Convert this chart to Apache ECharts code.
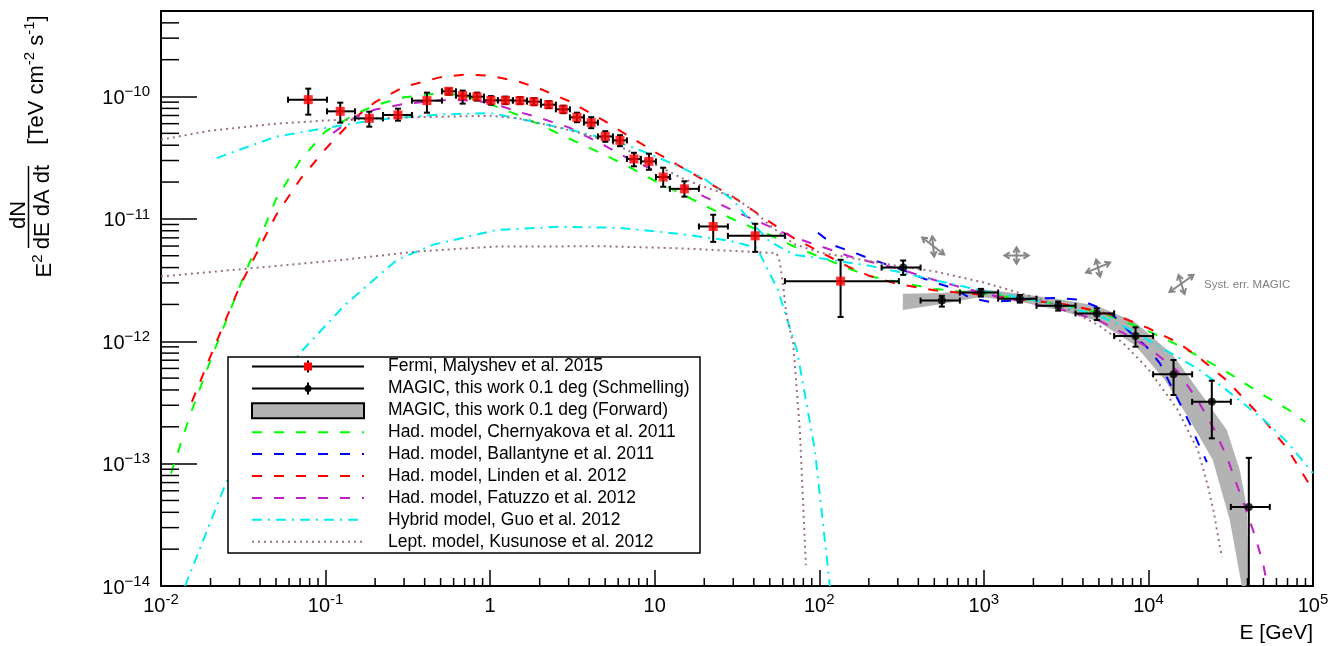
<!DOCTYPE html>
<html><head><meta charset="utf-8">
<script src="https://cdn.jsdelivr.net/npm/echarts@6.0.0/dist/echarts.min.js"></script>
<style>html,body{margin:0;padding:0;background:#fff;}#chart{width:1333px;height:646px;}</style>
</head><body><div id="chart"></div>
<script>
// ---------------- DATA ----------------
const LEGEND_NAMES = [
  'Fermi, Malyshev et al. 2015',
  'MAGIC, this work 0.1 deg (Schmelling)',
  'MAGIC, this work 0.1 deg (Forward)',
  'Had. model, Chernyakova et al. 2011',
  'Had. model, Ballantyne et al. 2011',
  'Had. model, Linden et al. 2012',
  'Had. model, Fatuzzo et al. 2012',
  'Hybrid model, Guo et al. 2012',
  'Lept. model, Kusunose et al. 2012'
];

// Fermi points (E [GeV], flux, bin edges, flux errors)
const FERMI_E    = [0.0785,0.1228,0.1843,0.2753,0.4130,0.5597,0.6807,0.8313,1.011,1.239,1.517,1.846,2.267,2.781,3.368,4.114,5.005,6.147,7.474,9.222,11.26,15.15,22.67,40.79,134.7];
const FERMI_F    = [9.43e-11,7.57e-11,6.63e-11,7.07e-11,9.26e-11,1.103e-10,1.017e-10,9.98e-11,9.31e-11,9.31e-11,9.26e-11,9.08e-11,8.58e-11,7.86e-11,6.76e-11,6.12e-11,4.72e-11,4.38e-11,3.09e-11,2.95e-11,2.20e-11,1.76e-11,8.67e-12,7.27e-12,3.10e-12];
const FERMI_E_LO = [0.0591,0.1020,0.1509,0.2233,0.3348,0.5095,0.6197,0.7542,0.9170,1.115,1.375,1.674,2.035,2.510,3.053,3.714,4.518,5.573,6.778,8.246,10.17,12.37,18.56,27.84,61.80];
const FERMI_E_HI = [0.1020,0.1509,0.2233,0.3348,0.5095,0.6197,0.7542,0.9170,1.115,1.375,1.674,2.035,2.510,3.053,3.714,4.518,5.573,6.778,8.246,10.17,12.37,18.56,27.84,61.80,304.5];
const FERMI_F_LO = [7.11e-11,6.12e-11,5.67e-11,6.35e-11,7.38e-11,1.036e-10,8.75e-11,9.26e-11,8.58e-11,8.67e-11,8.67e-11,8.50e-11,8.04e-11,7.31e-11,6.17e-11,5.51e-11,4.27e-11,3.93e-11,2.69e-11,2.52e-11,1.83e-11,1.52e-11,6.49e-12,5.38e-12,1.58e-12];
const FERMI_F_HI = [1.160e-10,8.91e-11,7.52e-11,7.96e-11,1.076e-10,1.160e-10,1.118e-10,1.076e-10,1.008e-10,9.98e-11,9.89e-11,9.70e-11,9.17e-11,8.42e-11,7.38e-11,6.78e-11,5.21e-11,4.83e-11,3.47e-11,3.41e-11,2.62e-11,2.03e-11,1.081e-11,9.12e-12,4.63e-12];

// MAGIC Schmelling points
const MAGIC_E    = [323.4,555.6,959,1654,2828,4859,8349,1.421e4,2.427e4,4.074e4];
const MAGIC_F    = [4.00e-12,2.15e-12,2.50e-12,2.23e-12,1.95e-12,1.69e-12,1.105e-12,5.37e-13,3.20e-13,4.43e-14];
const MAGIC_E_LO = [239.1,412.5,714.8,1221,2090,3607,6188,1.068e4,1.843e4,3.168e4];
const MAGIC_E_HI = [412.5,714.8,1221,2090,3607,6188,1.068e4,1.843e4,3.168e4,5.466e4];
const MAGIC_F_LO = [3.49e-12,1.92e-12,2.32e-12,2.07e-12,1.78e-12,1.49e-12,9.03e-13,3.64e-13,1.61e-13,1e-14];
const MAGIC_F_HI = [4.57e-12,2.35e-12,2.68e-12,2.39e-12,2.11e-12,1.86e-12,1.30e-12,7.03e-13,4.76e-13,1.115e-13];

// MAGIC Forward band
const BAND_UP_E = [322,555.6,959,1654,2816,4859,8269,1.407e4,2.053e4,2.995e4,3.592e4,3.961e4,4.074e4];
const BAND_UP_F = [2.44e-12,2.48e-12,2.68e-12,2.44e-12,2.22e-12,1.95e-12,1.44e-12,7.73e-13,3.84e-13,1.88e-13,8.85e-14,4.41e-14,1e-14];
const BAND_LO_E = [322,555.6,959,1654,2816,4859,8269,1.258e4,1.784e4,2.461e4,3.123e4,3.693e4];
const BAND_LO_F = [1.80e-12,2.02e-12,2.30e-12,2.10e-12,1.80e-12,1.47e-12,9.33e-13,4.82e-13,2.27e-13,1.07e-13,3.45e-14,1e-14];

// Models
const CHERN_E = [0.0115,0.015,0.02,0.03,0.05,0.07,0.1,0.15,0.2,0.3,0.5,0.7,1,1.5,2,3,5,7,10,15,20,30,50,70,100,150,200,300,500,1000,2000,3000,5000,7000,1e4,1.5e4,2e4,3e4,5e4,7e4,9e4];
const CHERN_F = [8.3e-14,2.48e-13,7.0e-13,2.78e-12,1.45e-11,3.0e-11,5.2e-11,7.1e-11,8.5e-11,9.85e-11,1.07e-10,1.01e-10,8.66e-11,7.0e-11,5.9e-11,4.55e-11,3.32e-11,2.65e-11,2.05e-11,1.57e-11,1.29e-11,9.9e-12,7.4e-12,5.95e-12,4.92e-12,3.95e-12,3.41e-12,3.05e-12,2.68e-12,2.44e-12,2.16e-12,1.98e-12,1.73e-12,1.47e-12,1.21e-12,9.33e-13,7.6e-13,5.6e-13,3.63e-13,2.79e-13,2.19e-13];

const BALL_E = [98.1,124.3,164.6,203.0,250.3,331.1,438.1,540.5,666.4,821.9,1088,1439,1903,2700,3830,5066,6250,7709,9737,1.173e4,1.482e4,1.784e4,2.053e4,2.264e4];
const BALL_F = [7.70e-12,6.03e-12,5.28e-12,4.72e-12,4.29e-12,3.76e-12,3.23e-12,2.94e-12,2.68e-12,2.26e-12,2.10e-12,2.14e-12,2.22e-12,2.26e-12,2.18e-12,1.87e-12,1.58e-12,1.19e-12,9.03e-13,6.61e-13,3.52e-13,2.13e-13,1.37e-13,1.03e-13];

const LINDEN_E = [0.0154,0.02,0.03,0.05,0.07,0.1,0.15,0.2,0.3,0.5,0.7,1,1.5,2,3,5,7,10,15,20,30,50,70,100,150,200,300,500,1000,2000,3000,5000,7000,1e4,1.5e4,2e4,3e4,5e4,7e4,1e5];
const LINDEN_F = [3.19e-13,7.56e-13,2.79e-12,1.07e-11,2.10e-11,3.73e-11,6.66e-11,9.0e-11,1.20e-10,1.44e-10,1.51e-10,1.48e-10,1.32e-10,1.16e-10,9.2e-11,6.26e-11,4.73e-11,3.53e-11,2.58e-11,2.07e-11,1.51e-11,9.45e-12,6.97e-12,5.42e-12,4.07e-12,3.44e-12,2.93e-12,2.61e-12,2.39e-12,2.14e-12,2.02e-12,1.75e-12,1.55e-12,1.28e-12,9.8e-13,7.5e-13,4.77e-13,2.30e-13,1.32e-13,6.06e-14];

const FATUZZO_E = [0.111,0.15,0.2,0.3,0.5,0.7,1,1.5,2,3,5,7,10,15,20,30,50,70,100,150,200,300,500,1000,2000,3000,5000,7000,1e4,1.5e4,2e4,2.5e4,3e4,3.5e4,4e4,4.5e4,5e4,5.2e4];
const FATUZZO_F = [5.04e-11,6.74e-11,7.84e-11,8.70e-11,9.32e-11,9.34e-11,8.93e-11,7.47e-11,6.70e-11,5.60e-11,3.96e-11,3.08e-11,2.49e-11,1.86e-11,1.52e-11,1.17e-11,8.66e-12,7.06e-12,6.03e-12,4.98e-12,4.49e-12,3.93e-12,3.17e-12,2.46e-12,2.01e-12,1.81e-12,1.48e-12,1.17e-12,8.88e-13,5.72e-13,3.27e-13,1.93e-13,1.13e-13,6.35e-14,3.87e-14,2.43e-14,1.48e-14,1.11e-14];

const GUO_E = [0.0218,0.03,0.05,0.1,0.2,0.5,1,1.5,2,3,5,7,10,15,20,30,40,50,70,100,200,300,500,1000,2000,3000,5000,7000,1e4,1.5e4,2e4,3e4,5e4,7e4,1e5];
const GUO_F = [3.14e-11,3.67e-11,4.70e-11,5.53e-11,6.43e-11,7.14e-11,7.33e-11,6.59e-11,6.05e-11,5.39e-11,4.52e-11,3.94e-11,3.26e-11,2.58e-11,2.14e-11,1.42e-11,8.93e-12,6.52e-12,5.10e-12,4.78e-12,4.15e-12,3.70e-12,3.16e-12,2.58e-12,2.17e-12,1.96e-12,1.61e-12,1.34e-12,1.02e-12,7.42e-13,5.94e-13,3.97e-13,2.30e-13,1.49e-13,8.36e-14];

const GUO2_E = [0.014,0.0168,0.0241,0.04,0.0699,0.131,0.2715,0.449,1.10,2.655,6.147,14.23,28.63,41.78,56.04,73.1,94.0,116];
const GUO2_F = [1e-14,1.85e-14,6.30e-14,2.74e-13,8.02e-13,1.98e-12,4.63e-12,6.14e-12,8.14e-12,8.62e-12,8.45e-12,7.55e-12,6.62e-12,5.80e-12,2.63e-12,8.49e-13,1.29e-13,1e-14];

const KUSU_E = [0.01,0.02,0.05,0.1,0.3,1,1.5,2,3,5,7,10,15,20,30,40,50,70,100,200,300,500,1000,2000,3000,5000,7000,1e4,1.5e4,2e4,2.3e4,2.5e4,2.7e4,2.8e4];
const KUSU_F = [4.44e-11,5.26e-11,6.0e-11,6.37e-11,6.75e-11,6.96e-11,6.62e-11,6.05e-11,5.33e-11,4.41e-11,3.59e-11,2.80e-11,2.12e-11,1.83e-11,1.52e-11,1.16e-11,8.85e-12,6.24e-12,5.32e-12,4.53e-12,4.12e-12,3.73e-12,3.02e-12,2.30e-12,1.92e-12,1.35e-12,9.70e-13,5.91e-13,2.77e-13,1.28e-13,6.55e-14,3.96e-14,2.19e-14,1.72e-14];

const KUSU2_E = [0.01,0.1276,0.3577,1.083,5.0,14.23,36.17,55.04,57.6,60.35,63.3,69.4,76.2,82.9];
const KUSU2_F = [3.38e-12,4.63e-12,5.41e-12,5.95e-12,5.97e-12,5.75e-12,5.41e-12,5.25e-12,4.46e-12,2.80e-12,1.59e-12,9.63e-13,1.88e-13,1.48e-14];

// Systematic-error arrow crosses (centres)
const SYST_E = [492, 1580, 4947, 1.589e4];
const SYST_F = [5.95e-12, 5.02e-12, 4.00e-12, 2.94e-12];
const SYST_LABEL = 'Syst. err. MAGIC';

// Axes
const X_MIN = 0.01, X_MAX = 1e5, Y_MIN = 1e-14, Y_MAX = 5e-10;
const X_TICK_LABELS = {'-2':'{b|10}{s|-2}','-1':'{b|10}{s|-1}','0':'{b|1}','1':'{b|10}','2':'{b|10}{s|2}','3':'{b|10}{s|3}','4':'{b|10}{s|4}','5':'{b|10}{s|5}'};
const Y_TICK_LABELS = {'-14':'{b|10}{s|−14}','-13':'{b|10}{s|−13}','-12':'{b|10}{s|−12}','-11':'{b|10}{s|−11}','-10':'{b|10}{s|−10}'};
const MINOR_MANT = [2,3,4,5,6,7,8,9];
const X_DECADES = [-2,-1,0,1,2,3,4];
const Y_DECADES = [-14,-13,-12,-11,-10];
const X_TITLE = 'E [GeV]';

// ---------------- CHART ----------------
const FONT = '"Liberation Sans", Arial, Helvetica, sans-serif';
const pairs = (xs, ys) => xs.map((x, i) => [x, ys[i]]);
const X_MINOR = [];
X_DECADES.forEach(d => MINOR_MANT.forEach(m => X_MINOR.push(m * Math.pow(10, d))));
const Y_MINOR = [];
Y_DECADES.forEach(d => MINOR_MANT.forEach(m => { const v = m * Math.pow(10, d); if (v < Y_MAX * 0.99) Y_MINOR.push(v); }));

const C_GREEN = '#00ff00', C_BLUE = '#0000ff', C_RED = '#ff0000', C_MAG = '#c020c8', C_CYAN = '#00eeee', C_BROWN = '#9a7080';
const DASH = [10, 12], DASHDOT = [10, 6, 2, 6], DOT = [2, 4];

const labelRich = {
  b: {fontSize: 20, lineHeight: 24, verticalAlign: 'bottom', fontFamily: FONT, color: '#000'},
  s: {fontSize: 15, verticalAlign: 'top', fontFamily: FONT, color: '#000'}
};

function errRender(params, api) {
  const c = api.coord([api.value(0), api.value(1)]);
  const l = api.coord([api.value(2), api.value(1)]);
  const r = api.coord([api.value(3), api.value(1)]);
  const b = api.coord([api.value(0), api.value(4)]);
  const t = api.coord([api.value(0), api.value(5)]);
  const st = {stroke: '#000', lineWidth: 2};
  const cap = 3;
  return {type: 'group', children: [
    {type: 'line', shape: {x1: l[0], y1: c[1], x2: r[0], y2: c[1]}, style: st},
    {type: 'line', shape: {x1: c[0], y1: t[1], x2: c[0], y2: b[1]}, style: st},
    {type: 'line', shape: {x1: l[0], y1: c[1] - cap, x2: l[0], y2: c[1] + cap}, style: st},
    {type: 'line', shape: {x1: r[0], y1: c[1] - cap, x2: r[0], y2: c[1] + cap}, style: st},
    {type: 'line', shape: {x1: c[0] - cap, y1: t[1], x2: c[0] + cap, y2: t[1]}, style: st},
    {type: 'line', shape: {x1: c[0] - cap, y1: b[1], x2: c[0] + cap, y2: b[1]}, style: st}
  ]};
}

// arrow geometry (pixel offsets of the two double-headed arrows of each cross)
const ARROW_GEOM = [
  [[-11, -9, 11, 8], [-1, -10, 1, 10]],
  [[-12, 0, 12, 0], [0, -8, 0, 8]],
  [[-12, 5, 12, -5], [-2, -8, 2, 9]],
  [[-12, 8, 12, -9], [-3, -9, 3, 10]]
];
function arrowRender(params, api) {
  const c = api.coord([api.value(0), api.value(1)]);
  const children = [];
  const st = {stroke: '#858585', lineWidth: 2, fill: 'none'};
  ARROW_GEOM[params.dataIndex].forEach(g => {
    const x1 = c[0] + g[0], y1 = c[1] + g[1], x2 = c[0] + g[2], y2 = c[1] + g[3];
    children.push({type: 'line', shape: {x1, y1, x2, y2}, style: st});
    const len = Math.hypot(x2 - x1, y2 - y1), ux = (x2 - x1) / len, uy = (y2 - y1) / len;
    const h = 6, a = 0.55;
    const rot = (x, y, ang) => [x * Math.cos(ang) - y * Math.sin(ang), x * Math.sin(ang) + y * Math.cos(ang)];
    const p1 = rot(ux, uy, a), p2 = rot(ux, uy, -a);
    children.push({type: 'polyline', shape: {points: [[x2 - h * p1[0], y2 - h * p1[1]], [x2, y2], [x2 - h * p2[0], y2 - h * p2[1]]]}, style: st});
    children.push({type: 'polyline', shape: {points: [[x1 + h * p1[0], y1 + h * p1[1]], [x1, y1], [x1 + h * p2[0], y1 + h * p2[1]]]}, style: st});
  });
  return {type: 'group', children};
}

function lineSeries(name, xs, ys, color, dash, z) {
  return {type: 'line', name, data: pairs(xs, ys), showSymbol: false, symbol: 'none', silent: true,
    clip: true, z: z || 3, lineStyle: {color, width: 2, type: dash, cap: 'butt'}};
}

const series = [
  {type: 'custom', name: LEGEND_NAMES[2], silent: true, clip: true, z: 1,
    data: [[BAND_UP_E[0], BAND_UP_F[0]]],
    renderItem: (p, api) => {
      const pts = [];
      BAND_UP_E.forEach((e, i) => pts.push(api.coord([e, BAND_UP_F[i]])));
      for (let i = BAND_LO_E.length - 1; i >= 0; i--) pts.push(api.coord([BAND_LO_E[i], BAND_LO_F[i]]));
      return {type: 'polygon', shape: {points: pts}, style: {fill: '#b3b3b3', stroke: 'none'}};
    }},
  lineSeries(LEGEND_NAMES[3], CHERN_E, CHERN_F, C_GREEN, DASH),
  lineSeries(LEGEND_NAMES[4], BALL_E, BALL_F, C_BLUE, DASH),
  lineSeries(LEGEND_NAMES[5], LINDEN_E, LINDEN_F, C_RED, DASH),
  lineSeries(LEGEND_NAMES[6], FATUZZO_E, FATUZZO_F, C_MAG, DASH),
  lineSeries(LEGEND_NAMES[7], GUO_E, GUO_F, C_CYAN, DASHDOT),
  lineSeries(LEGEND_NAMES[7] + ' (component)', GUO2_E, GUO2_F, C_CYAN, DASHDOT),
  lineSeries(LEGEND_NAMES[8], KUSU_E, KUSU_F, C_BROWN, DOT),
  lineSeries(LEGEND_NAMES[8] + ' (component)', KUSU2_E, KUSU2_F, C_BROWN, DOT),
  {type: 'custom', name: 'fermi-err', silent: true, clip: true, z: 5, encode: {x: 0, y: 1},
    data: FERMI_E.map((e, i) => [e, FERMI_F[i], FERMI_E_LO[i], FERMI_E_HI[i], FERMI_F_LO[i], FERMI_F_HI[i]]),
    renderItem: errRender},
  {type: 'custom', name: 'magic-err', silent: true, clip: true, z: 5, encode: {x: 0, y: 1},
    data: MAGIC_E.map((e, i) => [e, MAGIC_F[i], MAGIC_E_LO[i], MAGIC_E_HI[i], MAGIC_F_LO[i], MAGIC_F_HI[i]]),
    renderItem: errRender},
  {type: 'scatter', name: LEGEND_NAMES[0], data: pairs(FERMI_E, FERMI_F), symbol: 'rect', symbolSize: 9,
    itemStyle: {color: '#ff0000'}, z: 6, silent: true},
  {type: 'scatter', name: LEGEND_NAMES[1], data: pairs(MAGIC_E, MAGIC_F), symbol: 'circle', symbolSize: 8,
    itemStyle: {color: '#000'}, z: 6, silent: true},
  {type: 'custom', name: 'syst', silent: true, clip: false, z: 6, data: pairs(SYST_E, SYST_F), renderItem: arrowRender},
  {type: 'custom', name: 'yminor', silent: true, clip: false, z: 7, encode: {x: 0, y: 1},
    data: Y_MINOR.map(v => [X_MIN, v]),
    renderItem: (p, api) => { const q = api.coord([api.value(0), api.value(1)]);
      return {type: 'line', shape: {x1: q[0], y1: q[1], x2: q[0] + 18, y2: q[1]}, style: {stroke: '#000', lineWidth: 1.5}}; }},
  {type: 'custom', name: 'xminor', silent: true, clip: false, z: 7, encode: {x: 0, y: 1},
    data: X_MINOR.map(v => [v, Y_MIN]),
    renderItem: (p, api) => { const q = api.coord([api.value(0), api.value(1)]);
      return {type: 'line', shape: {x1: q[0], y1: q[1], x2: q[0], y2: q[1] - 8}, style: {stroke: '#000', lineWidth: 1.5}}; }}
];

// legend drawn as graphic
const LEG = {x: 228, y: 357, w: 472, h: 196, row0: 366.5, dy: 21.9, sx1: 252, sx2: 364, tx: 388};
const legendEls = [{type: 'rect', shape: {x: LEG.x, y: LEG.y, width: LEG.w, height: LEG.h},
  style: {fill: '#fff', stroke: '#000', lineWidth: 1.5}, z: 100}];
const legendStyles = [null, null, null,
  [C_GREEN, DASH], [C_BLUE, DASH], [C_RED, DASH], [C_MAG, DASH], [C_CYAN, DASHDOT], [C_BROWN, DOT]];
LEGEND_NAMES.forEach((name, i) => {
  const y = LEG.row0 + i * LEG.dy;
  const mx = (LEG.sx1 + LEG.sx2) / 2;
  if (i === 0 || i === 1) {
    legendEls.push({type: 'line', z: 101, shape: {x1: LEG.sx1, y1: y, x2: LEG.sx2, y2: y}, style: {stroke: '#000', lineWidth: 2}});
    legendEls.push({type: 'line', z: 101, shape: {x1: mx, y1: y - 6, x2: mx, y2: y + 6}, style: {stroke: '#000', lineWidth: 2}});
    if (i === 0) legendEls.push({type: 'rect', z: 102, shape: {x: mx - 4, y: y - 4, width: 8, height: 8}, style: {fill: '#ff0000'}});
    else legendEls.push({type: 'circle', z: 102, shape: {cx: mx, cy: y, r: 3.5}, style: {fill: '#000'}});
  } else if (i === 2) {
    legendEls.push({type: 'rect', z: 101, shape: {x: LEG.sx1, y: y - 7, width: LEG.sx2 - LEG.sx1, height: 15},
      style: {fill: '#b3b3b3', stroke: '#000', lineWidth: 2}});
  } else {
    legendEls.push({type: 'line', z: 101, shape: {x1: LEG.sx1, y1: y, x2: LEG.sx2, y2: y},
      style: {stroke: legendStyles[i][0], lineWidth: 2, lineDash: legendStyles[i][1]}});
  }
  legendEls.push({type: 'text', z: 101, x: LEG.tx, y: y,
    style: {text: name, font: '17.5px ' + FONT, fill: '#000', align: 'left', verticalAlign: 'middle'}});
});

const titleRich = {
  b: {fontSize: 22, lineHeight: 26, verticalAlign: 'bottom', fontFamily: FONT, fill: '#000'},
  s: {fontSize: 15, verticalAlign: 'top', fontFamily: FONT, fill: '#000'}
};
const R90 = Math.PI / 2;
const titleEls = [
  {type: 'text', x: 43, y: 266, rotation: R90, style: {text: '{b|E}{s|2}', rich: titleRich, align: 'center', verticalAlign: 'middle'}},
  {type: 'text', x: 19, y: 215, rotation: R90, style: {text: 'dN', font: '22px ' + FONT, fill: '#000', align: 'center', verticalAlign: 'middle'}},
  {type: 'line', shape: {x1: 28.5, y1: 166, x2: 28.5, y2: 248}, style: {stroke: '#000', lineWidth: 1.5}},
  {type: 'text', x: 43, y: 207, rotation: R90, style: {text: 'dE dA dt', font: '22px ' + FONT, fill: '#000', align: 'center', verticalAlign: 'middle'}},
  {type: 'text', x: 35, y: 80, rotation: R90, style: {text: '{b|[TeV cm}{s|-2}{b| s}{s|-1}{b|]}', rich: titleRich, align: 'center', verticalAlign: 'middle'}},
  {type: 'text', x: 1313, y: 633, style: {text: X_TITLE, font: '21px ' + FONT, fill: '#000', align: 'right', verticalAlign: 'middle'}},
  {type: 'text', x: 1204, y: 285, style: {text: SYST_LABEL, font: '11.5px ' + FONT, fill: '#808080', align: 'left', verticalAlign: 'middle'}}
];

const option = {
  animation: false,
  backgroundColor: '#fff',
  grid: {left: 161, top: 11, width: 1152, height: 575, show: true, borderColor: '#000', borderWidth: 2, backgroundColor: 'transparent'},
  xAxis: {type: 'log', logBase: 10, min: X_MIN, max: X_MAX,
    axisLine: {show: true, lineStyle: {color: '#000', width: 2}},
    axisTick: {show: true, inside: true, length: 16, lineStyle: {color: '#000', width: 1.5}},
    splitLine: {show: false}, minorTick: {show: false},
    axisLabel: {margin: 6, rich: labelRich, formatter: v => { const n = Math.round(Math.log10(v)); return X_TICK_LABELS[String(n)] || ''; }}},
  yAxis: {type: 'log', logBase: 10, min: Y_MIN, max: Y_MAX,
    axisLine: {show: true, lineStyle: {color: '#000', width: 2}},
    axisTick: {show: true, inside: true, length: 36, lineStyle: {color: '#000', width: 1.5}},
    splitLine: {show: false}, minorTick: {show: false},
    axisLabel: {margin: 11, rich: labelRich, showMaxLabel: false, formatter: v => {
      const lg = Math.log10(v), n = Math.round(lg);
      if (Math.abs(lg - n) > 0.01) return '';
      return Y_TICK_LABELS[String(n)] || ''; }}},
  series,
  graphic: {elements: legendEls.concat(titleEls)}
};

const chart = echarts.init(document.getElementById('chart'), null, {renderer: 'canvas'});
chart.setOption(option);
</script></body></html>
